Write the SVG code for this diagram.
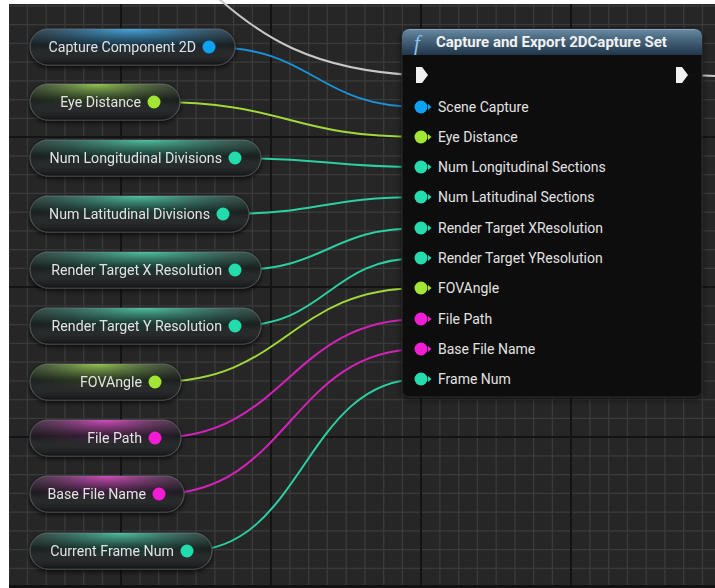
<svg xmlns="http://www.w3.org/2000/svg" width="715" height="588" viewBox="0 0 715 588">
<defs>
  <pattern id="grid" patternUnits="userSpaceOnUse" x="120" y="136" width="150" height="150">
    <rect width="150" height="150" fill="#262626"/>
    <g fill="#3a3a3a">
      <rect x="19.25" y="0" width="1.3" height="150"/>
      <rect x="38" y="0" width="1.3" height="150"/>
      <rect x="56.75" y="0" width="1.3" height="150"/>
      <rect x="75.5" y="0" width="1.3" height="150"/>
      <rect x="94.25" y="0" width="1.3" height="150"/>
      <rect x="113" y="0" width="1.3" height="150"/>
      <rect x="131.75" y="0" width="1.3" height="150"/>
      <rect y="19.25" x="0" height="1.3" width="150"/>
      <rect y="38" x="0" height="1.3" width="150"/>
      <rect y="56.75" x="0" height="1.3" width="150"/>
      <rect y="75.5" x="0" height="1.3" width="150"/>
      <rect y="94.25" x="0" height="1.3" width="150"/>
      <rect y="113" x="0" height="1.3" width="150"/>
      <rect y="131.75" x="0" height="1.3" width="150"/>
    </g>
    <rect x="0" y="0" width="2" height="150" fill="#141414"/>
    <rect x="0" y="0" width="150" height="2" fill="#141414"/>
  </pattern>
  <radialGradient id="gBlue" cx="0.5" cy="0" r="0.8">
    <stop offset="0" stop-color="#2a9ee0" stop-opacity="0.95"/>
    <stop offset="0.5" stop-color="#1d5a80" stop-opacity="0.5"/>
    <stop offset="1" stop-color="#1a1d1f" stop-opacity="0"/>
  </radialGradient>
  <radialGradient id="gGreen" cx="0.45" cy="0" r="0.8">
    <stop offset="0" stop-color="#8cc83a" stop-opacity="0.9"/>
    <stop offset="0.5" stop-color="#48682a" stop-opacity="0.5"/>
    <stop offset="1" stop-color="#1a1d1a" stop-opacity="0"/>
  </radialGradient>
  <radialGradient id="gTeal" cx="0.5" cy="0" r="0.8">
    <stop offset="0" stop-color="#36c49c" stop-opacity="0.9"/>
    <stop offset="0.5" stop-color="#1f6654" stop-opacity="0.5"/>
    <stop offset="1" stop-color="#1a1d1c" stop-opacity="0"/>
  </radialGradient>
  <radialGradient id="gMag" cx="0.5" cy="0" r="0.8">
    <stop offset="0" stop-color="#d834c0" stop-opacity="0.9"/>
    <stop offset="0.5" stop-color="#6a2260" stop-opacity="0.5"/>
    <stop offset="1" stop-color="#1d1a1d" stop-opacity="0"/>
  </radialGradient>
  <linearGradient id="pillShade" x1="0" y1="0" x2="0" y2="1">
    <stop offset="0" stop-color="#ffffff" stop-opacity="0.14"/>
    <stop offset="0.45" stop-color="#ffffff" stop-opacity="0"/>
    <stop offset="1" stop-color="#000000" stop-opacity="0.3"/>
  </linearGradient>
  <linearGradient id="hdr" x1="0" y1="0" x2="0" y2="1">
    <stop offset="0" stop-color="#6a8ba4"/>
    <stop offset="0.35" stop-color="#4b6a82"/>
    <stop offset="1" stop-color="#22364a"/>
  </linearGradient>
  <filter id="shadow" x="-10%" y="-30%" width="120%" height="170%">
    <feDropShadow dx="0" dy="2" stdDeviation="2.5" flood-color="#000" flood-opacity="0.8"/>
  </filter>
  <filter id="nshadow" x="-5%" y="-5%" width="110%" height="110%">
    <feDropShadow dx="0" dy="2" stdDeviation="3" flood-color="#000" flood-opacity="0.7"/>
  </filter>
</defs>
<style>
  text { font-family: Roboto, "Liberation Sans", sans-serif; font-size: 14px; fill: #e2e2e2; }
  .vl { text-anchor: end; font-size: 14.2px; }
  .pill { fill: #181b1c; stroke: #55595a; stroke-width: 1; }
  .wire { fill: none; stroke-width: 2; stroke-linecap: round; }
  .wb { stroke: #1a92d8; } .wg { stroke: #a2d83c; } .wt { stroke: #2ccfa2; } .wm { stroke: #d322b8; }
  .pb { fill: #0ea2f2; } .pg { fill: #a2e634; } .pt { fill: #24dcae; } .pm { fill: #f21ed4; }
  .exec { fill: #f2f2f2; }
</style>

<!-- background -->
<rect x="0" y="0" width="715" height="588" fill="#ffffff"/>
<rect x="9" y="4" width="706" height="584" fill="url(#grid)"/>
<rect x="9" y="585" width="706" height="3" fill="#111111"/>

<!-- connectors -->
<g id="connectors">
  <path class="wire" d="M218 -2 C260 35, 310 70, 415 75" stroke="#c8c8c8"/>
  <path class="wire" d="M688 75 C700 75, 705 76, 716 76" stroke="#c8c8c8"/>
  <path class="wire wb" d="M209 47 C315 47, 315 107, 421 107"/>
  <path class="wire wg" d="M154 102 C288 102, 288 137, 421 137"/>
  <path class="wire wt" d="M235 158 C328 158, 328 167, 421 167"/>
  <path class="wire wt" d="M223 214 C322 214, 322 197, 421 197"/>
  <path class="wire wt" d="M235 270 C328 270, 328 228, 421 228"/>
  <path class="wire wt" d="M235 326 C328 326, 328 258, 421 258"/>
  <path class="wire wg" d="M155 382 C288 382, 288 288, 421 288"/>
  <path class="wire wm" d="M155 438 C288 438, 288 319, 421 319"/>
  <path class="wire wm" d="M159 494 C290 494, 290 349, 421 349"/>
  <path class="wire wt" d="M187 551 C304 551, 304 379, 421 379"/>
</g>

<!-- variable nodes -->
<g id="var-capture-component-2d" filter="url(#shadow)">
  <rect class="pill" x="30" y="29" width="205" height="36" rx="18"/>
  <rect x="30" y="29" width="205" height="36" rx="18" fill="url(#gBlue)"/>
  <rect x="30" y="29" width="205" height="36" rx="18" fill="url(#pillShade)"/>
  <text class="vl" x="196" y="52">Capture Component 2D</text>
  <circle class="pb" cx="209" cy="47" r="6.5"/>
</g>
<g id="var-eye-distance" filter="url(#shadow)">
  <rect class="pill" x="30" y="84" width="150" height="36" rx="18"/>
  <rect x="30" y="84" width="150" height="36" rx="18" fill="url(#gGreen)"/>
  <rect x="30" y="84" width="150" height="36" rx="18" fill="url(#pillShade)"/>
  <text class="vl" x="141" y="107">Eye Distance</text>
  <circle class="pg" cx="154" cy="102" r="6.5"/>
</g>
<g id="var-num-longitudinal-divisions" filter="url(#shadow)">
  <rect class="pill" x="30" y="140" width="231" height="36" rx="18"/>
  <rect x="30" y="140" width="231" height="36" rx="18" fill="url(#gTeal)"/>
  <rect x="30" y="140" width="231" height="36" rx="18" fill="url(#pillShade)"/>
  <text class="vl" x="222" y="163">Num Longitudinal Divisions</text>
  <circle class="pt" cx="235" cy="158" r="6.5"/>
</g>
<g id="var-num-latitudinal-divisions" filter="url(#shadow)">
  <rect class="pill" x="30" y="196" width="219" height="36" rx="18"/>
  <rect x="30" y="196" width="219" height="36" rx="18" fill="url(#gTeal)"/>
  <rect x="30" y="196" width="219" height="36" rx="18" fill="url(#pillShade)"/>
  <text class="vl" x="210" y="219">Num Latitudinal Divisions</text>
  <circle class="pt" cx="223" cy="214" r="6.5"/>
</g>
<g id="var-render-target-x-resolution" filter="url(#shadow)">
  <rect class="pill" x="30" y="252" width="231" height="36" rx="18"/>
  <rect x="30" y="252" width="231" height="36" rx="18" fill="url(#gTeal)"/>
  <rect x="30" y="252" width="231" height="36" rx="18" fill="url(#pillShade)"/>
  <text class="vl" x="222" y="275">Render Target X Resolution</text>
  <circle class="pt" cx="235" cy="270" r="6.5"/>
</g>
<g id="var-render-target-y-resolution" filter="url(#shadow)">
  <rect class="pill" x="30" y="308" width="231" height="36" rx="18"/>
  <rect x="30" y="308" width="231" height="36" rx="18" fill="url(#gTeal)"/>
  <rect x="30" y="308" width="231" height="36" rx="18" fill="url(#pillShade)"/>
  <text class="vl" x="222" y="331">Render Target Y Resolution</text>
  <circle class="pt" cx="235" cy="326" r="6.5"/>
</g>
<g id="var-fovangle" filter="url(#shadow)">
  <rect class="pill" x="30" y="364" width="151" height="36" rx="18"/>
  <rect x="30" y="364" width="151" height="36" rx="18" fill="url(#gGreen)"/>
  <rect x="30" y="364" width="151" height="36" rx="18" fill="url(#pillShade)"/>
  <text class="vl" x="142" y="387">FOVAngle</text>
  <circle class="pg" cx="155" cy="382" r="6.5"/>
</g>
<g id="var-file-path" filter="url(#shadow)">
  <rect class="pill" x="30" y="420" width="151" height="36" rx="18"/>
  <rect x="30" y="420" width="151" height="36" rx="18" fill="url(#gMag)"/>
  <rect x="30" y="420" width="151" height="36" rx="18" fill="url(#pillShade)"/>
  <text class="vl" x="142" y="443">File Path</text>
  <circle class="pm" cx="155" cy="438" r="6.5"/>
</g>
<g id="var-base-file-name" filter="url(#shadow)">
  <rect class="pill" x="30" y="476" width="154" height="36" rx="18"/>
  <rect x="30" y="476" width="154" height="36" rx="18" fill="url(#gMag)"/>
  <rect x="30" y="476" width="154" height="36" rx="18" fill="url(#pillShade)"/>
  <text class="vl" x="146" y="499">Base File Name</text>
  <circle class="pm" cx="159" cy="494" r="6.5"/>
</g>
<g id="var-current-frame-num" filter="url(#shadow)">
  <rect class="pill" x="30" y="533" width="182" height="36" rx="18"/>
  <rect x="30" y="533" width="182" height="36" rx="18" fill="url(#gTeal)"/>
  <rect x="30" y="533" width="182" height="36" rx="18" fill="url(#pillShade)"/>
  <text class="vl" x="174" y="556">Current Frame Num</text>
  <circle class="pt" cx="187" cy="551" r="6.5"/>
</g>

<!-- function node -->
<g id="fn-capture-and-export">
  <rect x="402" y="29" width="300" height="368" rx="7" fill="#111111" fill-opacity="0.97" stroke="#2a2a2a" filter="url(#nshadow)"/>
  <path d="M409 29 H695 A7 7 0 0 1 702 36 V55 H402 V36 A7 7 0 0 1 409 29 Z" fill="url(#hdr)"/>
  <path d="M409 29.5 H695" stroke="#9ab4c8" stroke-opacity="0.6" stroke-width="1"/>
  <text x="414" y="50" style="font-family:'Liberation Serif',serif;font-style:italic;font-size:21px;fill:#8ec4ee">f</text>
  <text x="436" y="47" style="font-weight:bold;font-size:15px;fill:#f2f2f2">Capture and Export 2DCapture Set</text>
  <path class="exec" d="M416 67 H422 L428 75 L422 83 H416 Z"/>
  <path class="exec" d="M676 67 H682 L688 75 L682 83 H676 Z"/>
  <g>
    <circle class="pb" cx="421" cy="107" r="6.5"/><path class="pb" d="M428 104 L431.5 107 L428 110 Z"/>
    <text x="438" y="112">Scene Capture</text>
    <circle class="pg" cx="421" cy="137" r="6.5"/><path class="pg" d="M428 134 L431.5 137 L428 140 Z"/>
    <text x="438" y="142">Eye Distance</text>
    <circle class="pt" cx="421" cy="167" r="6.5"/><path class="pt" d="M428 164 L431.5 167 L428 170 Z"/>
    <text x="438" y="172">Num Longitudinal Sections</text>
    <circle class="pt" cx="421" cy="197" r="6.5"/><path class="pt" d="M428 194 L431.5 197 L428 200 Z"/>
    <text x="438" y="202">Num Latitudinal Sections</text>
    <circle class="pt" cx="421" cy="228" r="6.5"/><path class="pt" d="M428 225 L431.5 228 L428 231 Z"/>
    <text x="438" y="233">Render Target XResolution</text>
    <circle class="pt" cx="421" cy="258" r="6.5"/><path class="pt" d="M428 255 L431.5 258 L428 261 Z"/>
    <text x="438" y="263">Render Target YResolution</text>
    <circle class="pg" cx="421" cy="288" r="6.5"/><path class="pg" d="M428 285 L431.5 288 L428 291 Z"/>
    <text x="438" y="293">FOVAngle</text>
    <circle class="pm" cx="421" cy="319" r="6.5"/><path class="pm" d="M428 316 L431.5 319 L428 322 Z"/>
    <text x="438" y="324">File Path</text>
    <circle class="pm" cx="421" cy="349" r="6.5"/><path class="pm" d="M428 346 L431.5 349 L428 352 Z"/>
    <text x="438" y="354">Base File Name</text>
    <circle class="pt" cx="421" cy="379" r="6.5"/><path class="pt" d="M428 376 L431.5 379 L428 382 Z"/>
    <text x="438" y="384">Frame Num</text>
  </g>
</g>
</svg>
